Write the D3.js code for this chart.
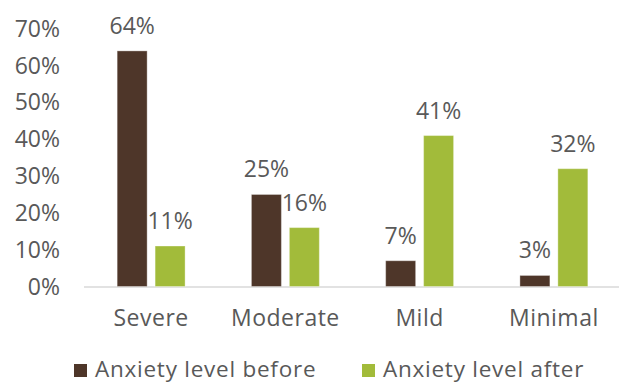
<!DOCTYPE html>
<html>
<head>
<meta charset="utf-8">
<script src="https://cdn.jsdelivr.net/npm/d3@7.9.0/dist/d3.min.js"></script>
<style>
  html, body { margin: 0; padding: 0; background: #fff; }
  svg text { font-family: "Open Sans", "Noto Sans", sans-serif; fill: #595959; }
</style>
</head>
<body>
<svg id="chart" width="619" height="383"></svg>
<script>
const categories = ['Severe', 'Moderate', 'Mild', 'Minimal'];
const seriesNames = ['Anxiety level before', 'Anxiety level after'];
const before = [64, 25, 7, 3];
const after = [11, 16, 41, 32];
const yTicks = [0, 10, 20, 30, 40, 50, 60, 70];
const colors = ['#4E3629', '#A2BB3A'];

const fontSize = 23;
const svg = d3.select('#chart');

const x0 = d3.scaleBand()
  .domain(categories)
  .range([84, 621])
  .paddingInner(0.494)
  .paddingOuter(0.247);

const x1 = d3.scaleBand()
  .domain([0, 1])
  .range([0, x0.bandwidth()])
  .paddingInner(0.21);

const y = d3.scaleLinear()
  .domain([0, 70])
  .range([286.5, 28.8]);

// y tick labels
svg.append('g')
  .selectAll('text')
  .data(yTicks)
  .join('text')
  .attr('x', 60)
  .attr('y', (d) => y(d))
  .attr('dy', '0.35em')
  .attr('text-anchor', 'end')
  .attr('font-size', fontSize)
  .text((d) => `${d}%`);

// baseline
svg.append('line')
  .attr('x1', 84)
  .attr('x2', 619)
  .attr('y1', y(0) + 0.5)
  .attr('y2', y(0) + 0.5)
  .attr('stroke', '#D9D9D9')
  .attr('stroke-width', 1.3);

const rows = categories.map((c, i) => ({ cat: c, vals: [before[i], after[i]] }));

const groups = svg.append('g')
  .selectAll('g')
  .data(rows)
  .join('g')
  .attr('transform', (d) => `translate(${x0(d.cat)},0)`);

groups.selectAll('rect')
  .data((d) => d.vals.map((v, j) => ({ v, j })))
  .join('rect')
  .attr('x', (d) => x1(d.j))
  .attr('y', (d) => y(d.v))
  .attr('width', x1.bandwidth())
  .attr('height', (d) => y(0) - y(d.v))
  .attr('fill', (d) => colors[d.j])
  .attr('stroke', '#ffffff')
  .attr('stroke-opacity', 0.35)
  .attr('stroke-width', 1);

groups.selectAll('text')
  .data((d) => d.vals.map((v, j) => ({ v, j })))
  .join('text')
  .attr('x', (d) => x1(d.j) + x1.bandwidth() / 2)
  .attr('y', (d) => y(d.v) - 17)
  .attr('text-anchor', 'middle')
  .attr('font-size', fontSize)
  .text((d) => `${d.v}%`);

// category labels
svg.append('g')
  .selectAll('text')
  .data(categories)
  .join('text')
  .attr('x', (d) => x0(d) + x0.bandwidth() / 2)
  .attr('y', 318)
  .attr('dy', '0.35em')
  .attr('text-anchor', 'middle')
  .attr('font-size', fontSize)
  .attr('letter-spacing', 0.5)
  .text((d) => d);

// legend
const legendX = [74, 362];
const legend = svg.append('g')
  .selectAll('g')
  .data(seriesNames)
  .join('g')
  .attr('transform', (d, i) => `translate(${legendX[i]},0)`);

legend.append('rect')
  .attr('x', 0)
  .attr('y', 364)
  .attr('width', 13)
  .attr('height', 13)
  .attr('fill', (d, i) => colors[i]);

legend.append('text')
  .attr('x', 21)
  .attr('y', 376.5)
  .attr('font-size', 22.5)
  .attr('letter-spacing', 0.75)
  .text((d) => d);
</script>
</body>
</html>
